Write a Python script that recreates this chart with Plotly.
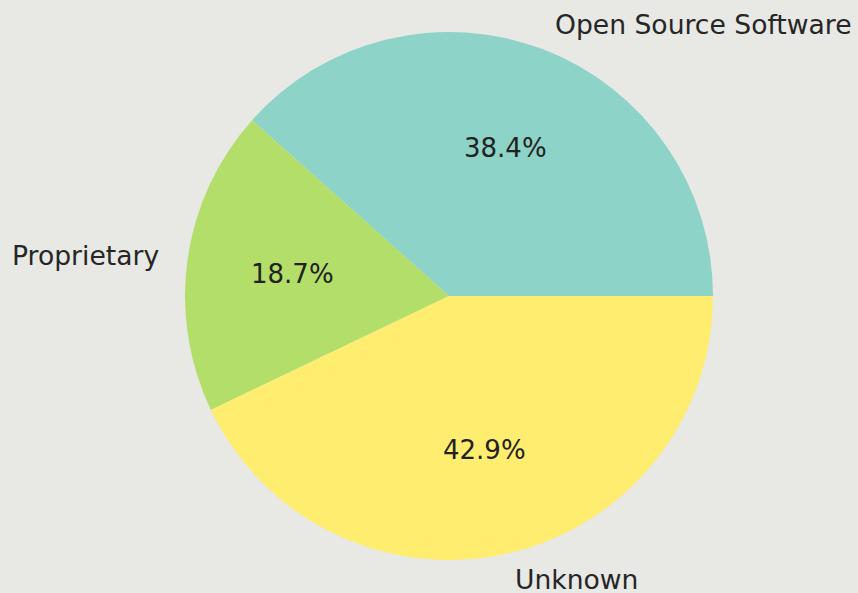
import math
import plotly.graph_objects as go

# License breakdown
labels = ["Open Source Software", "Proprietary", "Unknown"]
values = [38.4, 18.7, 42.9]
colors = ["#8dd3c7", "#b3de69", "#ffed6f"]

W, H = 858, 593
# pie placement in pixels (centre and radius)
cx, cy, r = 449, 296, 264

total = sum(values)
# plotly's counterclockwise layout ends the first slice at `rotation`,
# so shift it so the first slice starts at 3 o'clock instead
rotation = 90 - 360 * values[0] / total

fig = go.Figure(
    go.Pie(
        labels=labels,
        values=values,
        sort=False,
        direction="counterclockwise",
        rotation=rotation,
        textinfo="none",
        hoverinfo="label+percent",
        marker=dict(colors=colors, line=dict(width=0)),
        domain=dict(
            x=[(cx - r) / W, (cx + r) / W],
            y=[(H - cy - r) / H, (H - cy + r) / H],
        ),
        showlegend=False,
    )
)

# Slice labels (outside, at 1.1 r) and percentages (inside, at 0.6 r)
start = 0.0
annotations = []
for lab, v in zip(labels, values):
    mid = math.radians((start + v / 2) / total * 360)
    start += v
    cosm, sinm = math.cos(mid), math.sin(mid)
    lx = cx + 1.1 * r * cosm
    ly = cy - 1.1 * r * sinm
    annotations.append(dict(
        x=lx / W, y=1 - ly / H, xref="paper", yref="paper",
        text=lab, showarrow=False,
        xanchor="left" if cosm > 0 else "right", yanchor="middle",
        font=dict(family="DejaVu Sans", size=26.6, color="#262626"),
    ))
    px = cx + 0.6 * r * cosm
    py = cy - 0.6 * r * sinm
    annotations.append(dict(
        x=px / W, y=1 - py / H, xref="paper", yref="paper",
        text=f"{v / total * 100:.1f}%", showarrow=False,
        xanchor="center", yanchor="middle",
        font=dict(family="DejaVu Sans", size=26, color="#222222"),
    ))

fig.update_layout(
    width=W, height=H,
    margin=dict(l=0, r=0, t=0, b=0),
    paper_bgcolor="#e8e8e4",
    plot_bgcolor="#e8e8e4",
    annotations=annotations,
)

fig.write_html("out.html")
